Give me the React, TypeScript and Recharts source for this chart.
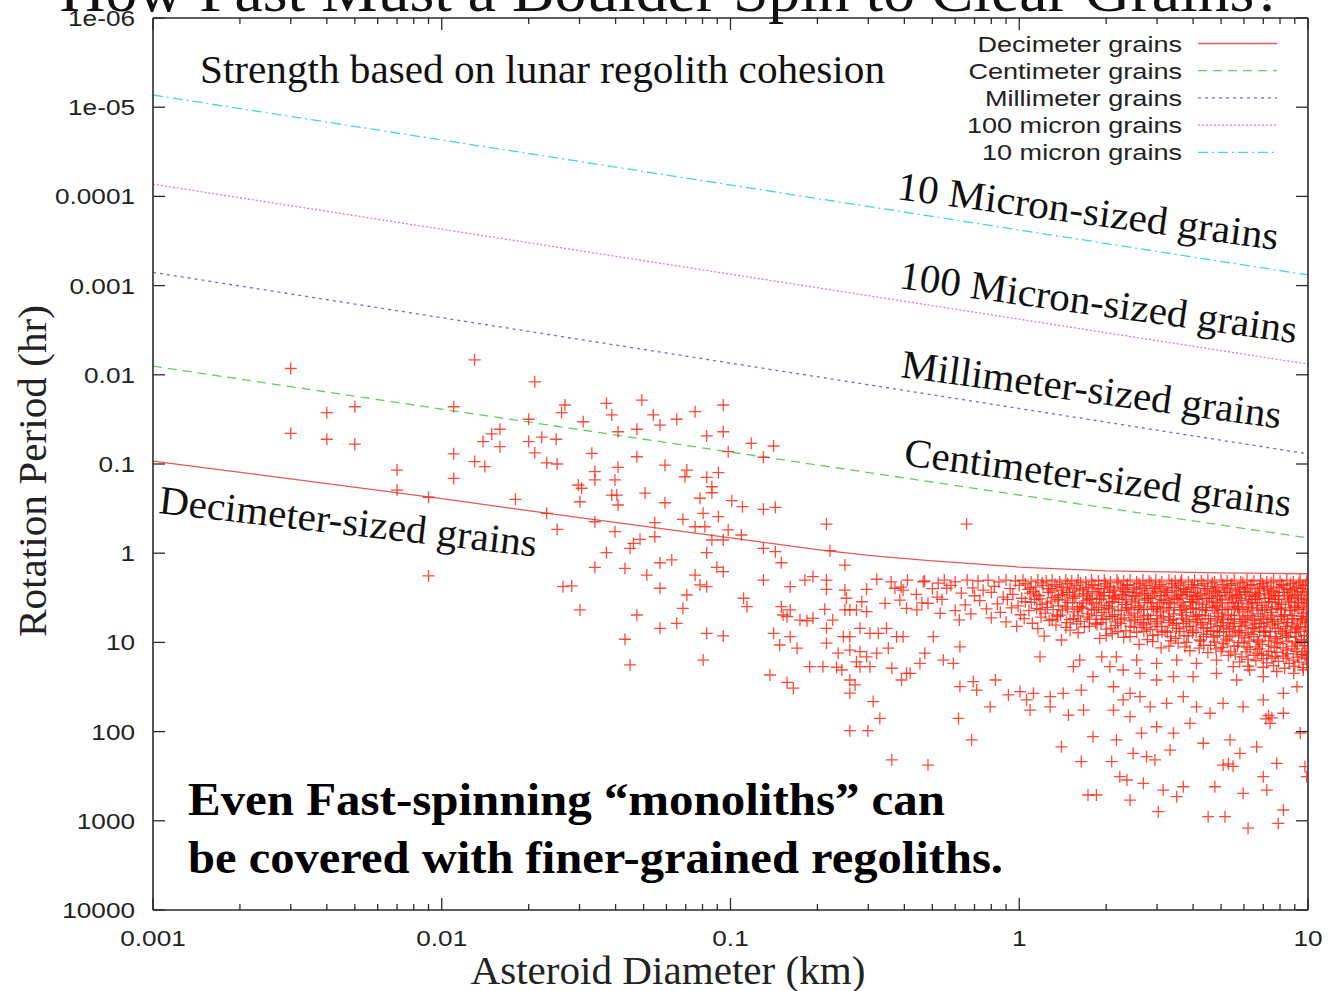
import React from 'react';
import { ComposedChart, XAxis, YAxis, Line, Scatter } from 'recharts';

const W = 1332;
const H = 991;

// ---------- axes ----------
const diameterMajor = [0.001, 0.01, 0.1, 1, 10];
const diameterMajorLabels = ['0.001', '0.01', '0.1', '1', '10'];
const diameterMinor = [
  0.002, 0.003, 0.004, 0.005, 0.006, 0.007, 0.008, 0.009,
  0.02, 0.03, 0.04, 0.05, 0.06, 0.07, 0.08, 0.09,
  0.2, 0.3, 0.4, 0.5, 0.6, 0.7, 0.8, 0.9,
  2, 3, 4, 5, 6, 7, 8, 9,
];
const diameterTicks = [...diameterMajor, ...diameterMinor];
const periodTicks = [1e-6, 1e-5, 1e-4, 1e-3, 1e-2, 1e-1, 1, 10, 100, 1000, 10000];
const periodLabels = ['1e-06', '1e-05', '0.0001', '0.001', '0.01', '0.1', '1', '10', '100', '1000', '10000'];

// ---------- strength curves [diameter km, period hr] ----------
const decimeterCurve = [
  [0.001, 0.093], [0.003, 0.147], [0.01, 0.245], [0.03, 0.4], [0.1, 0.675], [0.2, 0.91],
  [0.3, 1.06], [0.5, 1.22], [1, 1.43], [2, 1.58], [5, 1.66], [10, 1.7],
];
const centimeterCurve = [[0.001, 0.008], [10, 0.675]];
const millimeterCurve = [[0.001, 0.00071], [10, 0.077]];
const hundredMicronCurve = [[0.001, 0.000073], [10, 0.0076]];
const tenMicronCurve = [[0.001, 0.0000073], [10, 0.00076]];

const seriesNames = ['Decimeter grains', 'Centimeter grains', 'Millimeter grains', '100 micron grains', '10 micron grains'];
const seriesColors = ['#e05a5a', '#5fcf5f', '#6c6cd8', '#dc78dc', '#48d6d6'];
const seriesDashes = ['', '9 6', '3 4', '2 2', '10 4 2 4'];
const seriesCurves = [decimeterCurve, centimeterCurve, millimeterCurve, hundredMicronCurve, tenMicronCurve];

// ---------- asteroid observations [diameter km, period hr] ----------
const smallAsteroids = [
  [0.003, 0.0085], [0.013, 0.0068], [0.021, 0.012], [0.004, 0.0266], [0.005, 0.0228], [0.011, 0.0228],
  [0.02, 0.0315], [0.0267, 0.0218], [0.026, 0.0266], [0.003, 0.0453], [0.004, 0.0528], [0.005, 0.06],
  [0.0159, 0.0408], [0.0149, 0.046], [0.0139, 0.056], [0.0159, 0.064], [0.02, 0.056], [0.0222, 0.05],
  [0.0249, 0.0528], [0.011, 0.077], [0.021, 0.075], [0.013, 0.094], [0.0141, 0.107], [0.0231, 0.097],
  [0.0251, 0.1], [0.007, 0.117], [0.011, 0.145], [0.007, 0.196], [0.009, 0.236], [0.018, 0.249],
  [0.0231, 0.357], [0.0251, 0.54], [0.009, 1.8], [0.0263, 2.37],
];

const midAsteroids = [
  [0.0372, 0.0209], [0.0493, 0.0192], [0.0388, 0.0282], [0.0309, 0.0336], [0.054, 0.0282], [0.057, 0.0366],
  [0.0651, 0.0315], [0.0754, 0.0259], [0.0944, 0.0218], [0.0408, 0.0435], [0.0474, 0.0408], [0.0827, 0.0485],
  [0.0944, 0.0435], [0.118, 0.0586], [0.141, 0.0628], [0.0982, 0.0728], [0.13, 0.084], [0.0331, 0.0759],
  [0.0474, 0.0829], [0.0593, 0.103], [0.0408, 0.109], [0.0339, 0.122], [0.0706, 0.117], [0.0908, 0.125],
  [0.0827, 0.141], [0.0339, 0.151], [0.0398, 0.151], [0.0695, 0.139], [0.0297, 0.172], [0.0305, 0.187],
  [0.0862, 0.18], [0.0862, 0.21], [0.0506, 0.212], [0.0388, 0.223], [0.0404, 0.223], [0.0301, 0.265],
  [0.0408, 0.288], [0.0593, 0.272], [0.0784, 0.242], [0.101, 0.258], [0.11, 0.301], [0.13, 0.322],
  [0.143, 0.306], [0.0804, 0.357], [0.0908, 0.39], [0.0684, 0.417], [0.0547, 0.455], [0.0339, 0.444],
  [0.0754, 0.505], [0.0815, 0.505], [0.215, 0.471], [0.0982, 0.549], [0.109, 0.625], [0.0862, 0.711],
  [0.0944, 0.711], [0.0398, 0.574], [0.0486, 0.699], [0.0547, 0.654], [0.0461, 0.776], [0.0449, 0.882],
  [0.13, 0.882], [0.143, 0.962], [0.221, 0.937], [0.0372, 0.987], [0.0827, 0.987], [0.15, 1.28],
  [0.057, 1.28], [0.0626, 1.19], [0.249, 1.36], [0.0339, 1.44], [0.0431, 1.48], [0.0897, 1.44],
  [0.0944, 1.61], [0.0513, 1.76], [0.0754, 1.76], [0.13, 2.0], [0.181, 2.0], [0.193, 1.83],
  [0.215, 2.0], [0.161, 2.37], [0.0282, 2.33], [0.057, 2.47], [0.0784, 2.27], [0.0827, 2.37],
  [0.215, 2.54], [0.249, 2.59], [0.0706, 2.94], [0.111, 3.2], [0.114, 3.98], [0.15, 3.98],
  [0.161, 4.33], [0.212, 4.26], [0.249, 4.33], [0.259, 4.33], [0.273, 4.33], [0.0301, 4.33],
  [0.0474, 4.93], [0.0684, 4.15], [0.157, 5.15], [0.174, 5.62], [0.193, 5.37], [0.226, 5.62],
  [0.0651, 6.11], [0.057, 6.95], [0.141, 7.91], [0.161, 8.62], [0.215, 6.95], [0.246, 8.62],
  [0.259, 8.62], [0.0827, 7.91], [0.0944, 8.47], [0.0431, 9.22], [0.148, 10.7], [0.17, 11.6],
  [0.215, 10.2], [0.236, 13.2], [0.259, 12.2], [0.0804, 15.8], [0.0449, 17.9], [0.188, 18.7],
  [0.209, 18.7], [0.233, 19.0], [0.137, 23.2],
];

const largeAsteroids = [
  [0.657, 0.471], [0.296, 2.54], [0.321, 1.96], [0.371, 2.47], [0.396, 2.59], [0.465, 2.09],
  [0.524, 2.17], [0.561, 2.47], [0.152, 4.93], [0.184, 5.72], [0.252, 3.2], [0.285, 3.5],
  [0.296, 4.52], [0.343, 3.65], [0.386, 3.35], [0.407, 4.15], [0.442, 4.33], [0.483, 3.65],
  [0.532, 4.72], [0.281, 6.95], [0.304, 7.91], [0.325, 7.91], [0.347, 6.95], [0.376, 8.62],
  [0.396, 8.62], [0.504, 8.62], [0.281, 12.7], [0.296, 14.5], [0.321, 13.2], [0.352, 11.6],
  [0.471, 13.2], [0.623, 11.2], [0.243, 20.4], [0.273, 16.5], [0.281, 18.7], [0.304, 18.7],
  [0.362, 19.5], [0.453, 17.2], [0.407, 22.2], [0.546, 15.8], [0.591, 17.2], [0.157, 28.1],
  [0.165, 32.6], [0.259, 26.4], [0.27, 30.0], [0.391, 26.4], [0.419, 22.2], [0.259, 37.1],
  [0.623, 31.3], [0.693, 27.5], [0.712, 34.2], [0.827, 26.4], [0.312, 46.1], [0.329, 71.1],
  [0.616, 71.1], [0.793, 52.7], [0.259, 97.7], [0.299, 97.7], [0.684, 124], [0.362, 208],
  [0.483, 237], [0.917, 38.8], [1.006, 35.6], [1.06, 44.2], [1.09, 57.3],
];

const slowTail = [
  [1.18, 14.5], [1.4, 9.4], [1.62, 15.8], [1.54, 18.7], [1.12, 37.2], [1.28, 40.6], [1.42, 37.2],
  [1.64, 34.2], [1.28, 52.7], [1.48, 65.2], [1.67, 57.3], [1.4, 148], [1.8, 114], [1.64, 217],
  [1.73, 514], [1.85, 514], [2.09, 217], [2.17, 124], [2.12, 57.3], [2.29, 44.2], [2.42, 68.1],
  [2.23, 320], [2.36, 349], [2.69, 380], [2.42, 585], [2.48, 175], [2.76, 191], [2.95, 208],
  [2.65, 104], [2.99, 88.2], [3.33, 161], [3.15, 452], [3.03, 791], [3.51, 537], [3.7, 415],
  [3.42, 104], [3.9, 80.8], [4.34, 135], [4.76, 415], [4.51, 900], [5.16, 900], [5.08, 237],
  [5.37, 124], [5.96, 492], [6.2, 1210], [7.2, 452], [7.0, 320], [7.79, 227], [7.89, 1070],
  [8.22, 757], [5.81, 175], [6.64, 148], [7.39, 80.8], [8.22, 62.3], [9.4, 104], [9.76, 247],
  [9.9, 320], [5.96, 52.7], [5.08, 48.2], [4.58, 62.3], [4.11, 52.7], [3.7, 40.6], [3.24, 48.2],
  [2.84, 52.7], [2.62, 40.6], [2.42, 37.2], [2.12, 31.4], [1.8, 24.2], [7.0, 44.2], [8.22, 37.2],
  [9.16, 31.4], [7.0, 24.2], [5.66, 26.4], [4.82, 22.2], [4.0, 24.2], [3.42, 24.2], [2.99, 26.4],
  [2.62, 22.2], [2.29, 20.4], [2.06, 18.7], [1.93, 14.5], [2.17, 14.5], [2.55, 15.8], [2.99, 17.2],
  [3.51, 15.8], [4.11, 17.2], [4.82, 15.8], [5.51, 18.7], [6.28, 20.4], [7.79, 21.2], [8.92, 22.2],
  [9.63, 20.4], [7.3, 66], [7.5, 70], [7.15, 72], [5.3, 230], [5.5, 245],
];

const denseBand = [
  [0.36, 2.1], [0.41, 2.0], [0.47, 2.05], [0.55, 2.0], [0.6, 2.1], [0.66, 2.0], [0.72, 2.05], [0.78, 2.0],
  [0.85, 2.1], [0.9, 2.0], [0.97, 2.05], [1.03, 2.0], [1.1, 2.1], [1.16, 2.0], [1.24, 2.05], [1.3, 2.0],
  [1.38, 2.1], [1.45, 2.0], [1.52, 2.05], [1.6, 2.0], [1.7, 2.1], [1.78, 2.0], [1.88, 2.05], [1.97, 2.0],
  [2.07, 2.1], [2.18, 2.0], [2.3, 2.05], [2.42, 2.0], [2.55, 2.1], [2.68, 2.0], [2.82, 2.05], [2.97, 2.0],
  [3.12, 2.1], [3.3, 2.0], [3.47, 2.05], [3.65, 2.0], [3.85, 2.1], [4.05, 2.0], [4.27, 2.05], [4.5, 2.0],
  [4.75, 2.1], [5.0, 2.0], [5.25, 2.05], [5.55, 2.0], [5.85, 2.1], [6.15, 2.0], [6.5, 2.05], [6.85, 2.0],
  [7.2, 2.1], [7.6, 2.0], [8.0, 2.05], [8.45, 2.0], [8.9, 2.1], [9.4, 2.0], [9.9, 2.05],
  [0.39, 2.4], [0.5, 2.5], [0.58, 2.3], [0.69, 2.45], [0.75, 2.6], [0.82, 2.35], [0.93, 2.5], [1.0, 2.3],
  [1.07, 2.55], [1.14, 2.4], [1.21, 2.3], [1.28, 2.5], [1.35, 2.35], [1.42, 2.6], [1.5, 2.4], [1.58, 2.3],
  [1.66, 2.55], [1.74, 2.4], [1.83, 2.3], [1.92, 2.5], [2.02, 2.35], [2.12, 2.6], [2.24, 2.4], [2.36, 2.3],
  [2.48, 2.55], [2.62, 2.4], [2.75, 2.3], [2.9, 2.5], [3.05, 2.35], [3.22, 2.6], [3.38, 2.4], [3.56, 2.3],
  [3.75, 2.55], [3.95, 2.4], [4.15, 2.3], [4.38, 2.5], [4.62, 2.35], [4.88, 2.6], [5.12, 2.4], [5.4, 2.3],
  [5.7, 2.55], [6.0, 2.4], [6.32, 2.3], [6.67, 2.5], [7.02, 2.35], [7.4, 2.6], [7.8, 2.4], [8.22, 2.3],
  [8.66, 2.55], [9.12, 2.4], [9.62, 2.3],
  [0.44, 2.9], [0.52, 3.1], [0.63, 2.8], [0.7, 3.0], [0.8, 2.75], [0.88, 3.1], [0.95, 2.9], [1.02, 3.2],
  [1.09, 2.8], [1.17, 3.0], [1.26, 2.75], [1.33, 3.15], [1.41, 2.9], [1.49, 2.75], [1.57, 3.05], [1.67, 2.85],
  [1.77, 3.2], [1.86, 2.8], [1.96, 3.0], [2.05, 2.75], [2.16, 3.1], [2.27, 2.9], [2.4, 2.75], [2.52, 3.05],
  [2.66, 2.85], [2.8, 3.2], [2.94, 2.8], [3.1, 3.0], [3.27, 2.75], [3.44, 3.1], [3.62, 2.9], [3.82, 2.75],
  [4.02, 3.05], [4.24, 2.85], [4.46, 3.2], [4.7, 2.8], [4.95, 3.0], [5.2, 2.75], [5.48, 3.1], [5.78, 2.9],
  [6.08, 2.75], [6.4, 3.05], [6.75, 2.85], [7.1, 3.2], [7.48, 2.8], [7.88, 3.0], [8.3, 2.75], [8.75, 3.1],
  [9.2, 2.9], [9.7, 2.75],
  [0.46, 3.6], [0.54, 3.3], [0.65, 3.8], [0.73, 3.4], [0.84, 3.7], [0.91, 3.3], [0.99, 3.9], [1.05, 3.5],
  [1.13, 3.3], [1.2, 3.75], [1.29, 3.45], [1.37, 3.9], [1.44, 3.35], [1.53, 3.6], [1.62, 3.95], [1.71, 3.4],
  [1.8, 3.7], [1.9, 3.3], [2.0, 3.85], [2.1, 3.5], [2.21, 3.3], [2.33, 3.75], [2.45, 3.45], [2.58, 3.9],
  [2.72, 3.35], [2.86, 3.6], [3.01, 3.95], [3.17, 3.4], [3.34, 3.7], [3.52, 3.3], [3.7, 3.85], [3.9, 3.5],
  [4.1, 3.3], [4.32, 3.75], [4.55, 3.45], [4.8, 3.9], [5.05, 3.35], [5.32, 3.6], [5.6, 3.95], [5.9, 3.4],
  [6.22, 3.7], [6.56, 3.3], [6.92, 3.85], [7.3, 3.5], [7.7, 3.3], [8.1, 3.75], [8.55, 3.45], [9.0, 3.9],
  [9.5, 3.35], [9.92, 3.6],
  [0.6, 4.4], [0.68, 4.8], [0.77, 4.2], [0.86, 4.6], [0.94, 4.1], [1.01, 4.9], [1.08, 4.4], [1.15, 4.15],
  [1.23, 4.7], [1.31, 4.3], [1.39, 4.95], [1.47, 4.2], [1.55, 4.55], [1.64, 4.1], [1.73, 4.8], [1.82, 4.35],
  [1.93, 4.6], [2.04, 4.15], [2.14, 4.9], [2.26, 4.4], [2.38, 4.1], [2.5, 4.7], [2.64, 4.3], [2.78, 4.95],
  [2.92, 4.2], [3.08, 4.55], [3.24, 4.1], [3.42, 4.8], [3.6, 4.35], [3.8, 4.6], [4.0, 4.15], [4.2, 4.9],
  [4.42, 4.4], [4.66, 4.1], [4.9, 4.7], [5.16, 4.3], [5.44, 4.95], [5.74, 4.2], [6.05, 4.55], [6.38, 4.1],
  [6.72, 4.8], [7.08, 4.35], [7.46, 4.6], [7.86, 4.15], [8.28, 4.9], [8.72, 4.4], [9.18, 4.1], [9.66, 4.7],
  [0.62, 5.6], [0.8, 5.3], [0.9, 5.9], [1.04, 5.4], [1.11, 6.1], [1.19, 5.2], [1.27, 5.7], [1.36, 5.15],
  [1.46, 6.0], [1.54, 5.4], [1.63, 5.8], [1.72, 5.2], [1.84, 6.1], [1.95, 5.5], [2.06, 5.15], [2.19, 5.9],
  [2.31, 5.3], [2.44, 5.75], [2.57, 5.2], [2.7, 6.05], [2.85, 5.45], [3.0, 5.85], [3.16, 5.2], [3.33, 5.65],
  [3.5, 6.1], [3.68, 5.35], [3.88, 5.8], [4.08, 5.15], [4.3, 5.95], [4.52, 5.4], [4.76, 5.75], [5.02, 5.2],
  [5.28, 6.05], [5.56, 5.45], [5.86, 5.85], [6.18, 5.2], [6.52, 5.65], [6.88, 6.1], [7.26, 5.35], [7.65, 5.8],
  [8.06, 5.15], [8.5, 5.95], [8.95, 5.4], [9.42, 5.75], [9.88, 5.2],
  [0.98, 6.6], [1.16, 7.0], [1.34, 6.4], [1.5, 7.3], [1.68, 6.7], [1.86, 6.3], [2.0, 7.1], [2.15, 6.5],
  [2.34, 7.4], [2.5, 6.8], [2.66, 6.35], [2.84, 7.2], [3.0, 6.6], [3.2, 7.45], [3.4, 6.4], [3.58, 7.0],
  [3.8, 6.7], [4.0, 7.3], [4.25, 6.35], [4.48, 6.9], [4.72, 7.4], [4.98, 6.5], [5.22, 7.1], [5.5, 6.6],
  [5.8, 7.35], [6.1, 6.4], [6.42, 7.0], [6.78, 6.7], [7.14, 7.45], [7.52, 6.35], [7.92, 6.95], [8.35, 7.3],
  [8.8, 6.55], [9.26, 7.1], [9.75, 6.75],
  [1.22, 8.5], [1.6, 7.8], [1.9, 9.0], [2.1, 8.0], [2.3, 8.8], [2.55, 7.7], [2.78, 9.3], [3.02, 8.2],
  [3.26, 7.7], [3.48, 9.0], [3.72, 8.4], [3.98, 7.8], [4.22, 9.4], [4.45, 8.1], [4.7, 8.7], [4.94, 7.65],
  [5.2, 9.2], [5.46, 8.3], [5.74, 7.8], [6.04, 8.9], [6.35, 8.1], [6.68, 9.4], [7.02, 7.7], [7.38, 8.6],
  [7.76, 9.1], [8.16, 8.0], [8.58, 8.8], [9.02, 7.75], [9.48, 9.3], [9.9, 8.4],
  [2.6, 10.5], [3.1, 11.5], [3.55, 10.2], [3.9, 12.4], [4.35, 10.8], [4.8, 11.8], [5.1, 10.3], [5.4, 12.8],
  [5.7, 11.0], [6.0, 10.2], [6.3, 12.0], [6.6, 11.2], [6.95, 10.5], [7.3, 12.6], [7.65, 11.4], [8.0, 10.3],
  [8.4, 12.2], [8.8, 11.0], [9.2, 10.4], [9.6, 12.8], [9.95, 11.6],
  [5.3, 14.0], [6.2, 15.5], [6.9, 13.5], [7.5, 15.0], [8.2, 14.2], [8.9, 15.8], [9.5, 13.6], [9.85, 15.2],
];

const denseCore = [
  [1.05, 2.2], [1.2, 2.15], [1.33, 2.25], [1.47, 2.2], [1.63, 2.15], [1.8, 2.25], [1.99, 2.2], [2.2, 2.15],
  [2.37, 2.25], [2.6, 2.2], [2.86, 2.15], [3.07, 2.25], [3.37, 2.2], [3.62, 2.15], [3.97, 2.25], [4.33, 2.2],
  [4.66, 2.15], [5.07, 2.25], [5.45, 2.2], [5.95, 2.15], [6.4, 2.25], [6.95, 2.2], [7.45, 2.15], [8.1, 2.25],
  [8.7, 2.2], [9.3, 2.15], [9.8, 2.25],
  [1.12, 2.7], [1.3, 2.65], [1.46, 2.75], [1.62, 2.65], [1.79, 2.7], [1.97, 2.75], [2.14, 2.65], [2.33, 2.7],
  [2.55, 2.75], [2.77, 2.65], [3.0, 2.7], [3.25, 2.75], [3.5, 2.65], [3.78, 2.7], [4.08, 2.75], [4.4, 2.65],
  [4.78, 2.7], [5.15, 2.75], [5.6, 2.65], [6.05, 2.7], [6.55, 2.75], [7.05, 2.65], [7.6, 2.7], [8.2, 2.75],
  [8.85, 2.65], [9.45, 2.7],
  [1.18, 3.25], [1.36, 3.3], [1.55, 3.2], [1.75, 3.3], [1.93, 3.25], [2.13, 3.2], [2.35, 3.3], [2.6, 3.25],
  [2.85, 3.2], [3.1, 3.3], [3.38, 3.25], [3.66, 3.2], [3.96, 3.3], [4.3, 3.25], [4.64, 3.2], [5.0, 3.3],
  [5.42, 3.25], [5.85, 3.2], [6.3, 3.3], [6.8, 3.25], [7.35, 3.2], [7.95, 3.3], [8.6, 3.25], [9.25, 3.2],
  [9.85, 3.3],
  [1.25, 4.05], [1.45, 4.0], [1.66, 4.1], [1.88, 4.05], [2.1, 4.0], [2.35, 4.1], [2.6, 4.05], [2.88, 4.0],
  [3.15, 4.1], [3.45, 4.05], [3.75, 4.0], [4.1, 4.1], [4.45, 4.05], [4.85, 4.0], [5.25, 4.1], [5.7, 4.05],
  [6.15, 4.0], [6.65, 4.1], [7.2, 4.05], [7.75, 4.0], [8.35, 4.1], [9.0, 4.05], [9.6, 4.0],
  [1.35, 4.95], [1.6, 5.05], [1.85, 5.0], [2.1, 5.1], [2.4, 4.95], [2.7, 5.05], [3.0, 5.0], [3.3, 5.1],
  [3.65, 4.95], [4.0, 5.05], [4.4, 5.0], [4.85, 5.1], [5.3, 4.95], [5.8, 5.05], [6.3, 5.0], [6.85, 5.1],
  [7.45, 4.95], [8.1, 5.05], [8.8, 5.0], [9.5, 5.1],
  [1.58, 6.2], [1.92, 6.0], [2.25, 6.15], [2.62, 6.05], [2.95, 6.2], [3.3, 6.0], [3.7, 6.15], [4.12, 6.05],
  [4.6, 6.2], [5.05, 6.0], [5.55, 6.15], [6.05, 6.05], [6.6, 6.2], [7.2, 6.0], [7.85, 6.15], [8.5, 6.05],
  [9.2, 6.2], [9.8, 6.0],
  [2.2, 7.6], [2.7, 7.5], [3.12, 7.65], [3.6, 7.55], [4.1, 7.7], [4.6, 7.5], [5.1, 7.6], [5.6, 7.55],
  [6.2, 7.7], [6.8, 7.5], [7.4, 7.6], [8.05, 7.55], [8.7, 7.7], [9.4, 7.5],
  [2.9, 9.8], [3.35, 9.6], [3.8, 10.0], [4.25, 9.7], [4.75, 9.9], [5.25, 9.6], [5.75, 10.0], [6.25, 9.7],
  [6.75, 9.9], [7.3, 9.6], [7.85, 10.0], [8.45, 9.7], [9.05, 9.9], [9.7, 9.6],
  [4.5, 13.0], [5.0, 12.5], [5.6, 13.5], [6.1, 12.8], [6.7, 13.2], [7.2, 14.0], [7.8, 12.9], [8.5, 13.4],
  [9.1, 12.6], [9.75, 13.8],
  [5.8, 16.5], [6.6, 16.0], [7.2, 17.0], [7.9, 16.3], [8.6, 17.2], [9.3, 16.6], [9.9, 17.5],
];

const denseCoreInner = [
  [1.09, 2.45], [1.26, 2.5], [1.4, 2.45], [1.55, 2.5], [1.71, 2.45], [1.88, 2.5], [2.06, 2.45], [2.28, 2.5],
  [2.5, 2.45], [2.71, 2.5], [2.96, 2.45], [3.17, 2.5], [3.46, 2.45], [3.7, 2.5], [4.02, 2.45], [4.48, 2.5],
  [4.8, 2.45], [5.26, 2.5], [5.78, 2.45], [6.16, 2.5], [6.8, 2.45], [7.25, 2.5], [7.95, 2.45], [8.45, 2.5],
  [9.0, 2.45], [9.55, 2.5],
  [1.15, 2.95], [1.37, 3.0], [1.53, 2.95], [1.72, 3.0], [1.9, 2.95], [2.1, 3.0], [2.3, 2.95], [2.46, 3.0],
  [2.72, 2.95], [2.9, 3.0], [3.2, 2.95], [3.55, 3.0], [3.9, 2.95], [4.15, 3.0], [4.55, 2.95], [4.85, 3.0],
  [5.35, 2.95], [5.65, 3.0], [6.25, 2.95], [6.6, 3.0], [7.3, 2.95], [7.7, 3.0], [8.5, 2.95], [9.0, 3.0],
  [9.9, 2.95],
  [1.1, 3.55], [1.25, 3.6], [1.47, 3.55], [1.66, 3.6], [1.85, 3.55], [2.05, 3.6], [2.27, 3.55], [2.52, 3.6],
  [2.78, 3.55], [3.06, 3.6], [3.3, 3.55], [3.6, 3.6], [3.98, 3.55], [4.2, 3.6], [4.7, 3.55], [4.95, 3.6],
  [5.5, 3.55], [5.75, 3.6], [6.4, 3.55], [6.7, 3.6], [7.5, 3.55], [7.9, 3.6], [8.75, 3.55], [9.25, 3.6],
  [9.7, 3.55],
  [1.18, 4.3], [1.41, 4.35], [1.59, 4.3], [1.78, 4.25], [1.97, 4.3], [2.2, 4.35], [2.44, 4.3], [2.7, 4.25],
  [2.98, 4.3], [3.3, 4.35], [3.65, 4.3], [3.92, 4.25], [4.3, 4.3], [4.75, 4.35], [5.05, 4.3], [5.55, 4.25],
  [5.95, 4.3], [6.45, 4.35], [6.95, 4.3], [7.5, 4.25], [8.05, 4.3], [8.65, 4.35], [9.3, 4.3], [9.85, 4.25],
  [1.3, 5.5], [1.5, 5.55], [1.75, 5.5], [2.0, 5.45], [2.25, 5.5], [2.52, 5.55], [2.8, 5.5], [3.1, 5.45],
  [3.42, 5.5], [3.78, 5.55], [4.15, 5.5], [4.6, 5.45], [5.1, 5.5], [5.4, 5.55], [5.95, 5.5], [6.4, 5.45],
  [7.0, 5.5], [7.55, 5.55], [8.25, 5.5], [8.85, 5.45], [9.55, 5.5],
  [1.45, 6.8], [1.75, 6.6], [2.08, 6.9], [2.42, 6.6], [2.76, 6.85], [3.12, 6.65], [3.5, 6.9], [3.9, 6.6],
  [4.35, 6.85], [4.85, 6.65], [5.35, 6.9], [5.9, 6.6], [6.5, 6.85], [7.05, 6.65], [7.7, 6.9], [8.4, 6.6],
  [9.1, 6.85], [9.85, 6.65],
  [2.0, 8.4], [2.42, 8.6], [2.9, 8.4], [3.35, 8.6], [3.85, 8.45], [4.35, 8.6], [4.85, 8.4], [5.35, 8.6],
  [5.9, 8.45], [6.5, 8.6], [7.1, 8.4], [7.7, 8.6], [8.4, 8.45], [9.1, 8.6], [9.7, 8.4],
  [3.3, 11.0], [3.75, 11.2], [4.2, 11.6], [4.6, 10.8], [5.05, 11.4], [5.55, 11.0], [6.15, 11.3], [6.8, 11.8],
  [7.45, 11.0], [8.2, 11.5], [8.95, 11.8], [9.75, 10.9],
  [5.9, 14.5], [6.5, 14.0], [7.0, 15.2], [7.7, 14.4], [8.4, 15.0], [9.2, 14.6], [9.9, 14.0],
  [6.2, 18.5], [7.0, 19.0], [7.6, 18.2], [8.3, 19.5], [9.0, 18.6], [9.6, 19.2],
];

const toPoints = (arr: number[][]) => arr.map(([d, p]) => ({ d, p }));
const asteroidPoints = toPoints([
  ...smallAsteroids, ...midAsteroids, ...largeAsteroids, ...slowTail, ...denseBand, ...denseCore, ...denseCoreInner,
]);

// ---------- annotations ----------
const curveLabels = [
  { text: '10 Micron-sized grains', x: 896, y: 199, angle: 7.6, len: 384 },
  { text: '100 Micron-sized grains', x: 898, y: 288, angle: 7.9, len: 401 },
  { text: 'Millimeter-sized grains', x: 900, y: 377, angle: 7.7, len: 383 },
  { text: 'Centimeter-sized grains', x: 903, y: 465, angle: 7.6, len: 390 },
  { text: 'Decimeter-sized grains', x: 158, y: 513, angle: 6.6, len: 380 },
];

const SERIF = '"Times New Roman", "Liberation Serif", Tinos, Times, serif';
const SANS = '"Liberation Sans", Arial, Helvetica, sans-serif';
const AXIS = '#2a2a2a';

const isMajor = (v: number) => diameterMajor.indexOf(v);

const BottomTick = (props: any) => {
  const { x, y, payload } = props;
  const idx = isMajor(payload.value);
  return (
    <g>
      <line x1={x} x2={x} y1={y} y2={y - (idx >= 0 ? 12 : 6)} stroke={AXIS} strokeWidth={1.3} />
      {idx >= 0 && (
        <text transform={`translate(${x},${y + 36}) scale(1.19,1)`} textAnchor="middle" fontFamily={SANS} fontSize={22} fill="#222">
          {diameterMajorLabels[idx]}
        </text>
      )}
    </g>
  );
};

const TopTick = (props: any) => {
  const { x, y, payload } = props;
  const idx = isMajor(payload.value);
  return <line x1={x} x2={x} y1={y} y2={y + (idx >= 0 ? 12 : 6)} stroke={AXIS} strokeWidth={1.3} />;
};

const LeftTick = (props: any) => {
  const { x, y, payload } = props;
  const idx = periodTicks.indexOf(payload.value);
  return (
    <g>
      <line x1={x} x2={x + 12} y1={y} y2={y} stroke={AXIS} strokeWidth={1.3} />
      <text transform={`translate(${x - 18},${y + 8}) scale(1.19,1)`} textAnchor="end" fontFamily={SANS} fontSize={22} fill="#222">
        {idx >= 0 ? periodLabels[idx] : ''}
      </text>
    </g>
  );
};

const RightTick = (props: any) => {
  const { x, y } = props;
  return <line x1={x} x2={x - 12} y1={y} y2={y} stroke={AXIS} strokeWidth={1.3} />;
};

const PlusShape = (props: any) => {
  const { cx, cy } = props;
  if (cx == null || cy == null || isNaN(cx) || isNaN(cy)) return null;
  return (
    <path
      d={`M${cx - 6},${cy}H${cx + 6}M${cx},${cy - 6}V${cy + 6}`}
      stroke="#ff2210"
      strokeOpacity={0.82}
      strokeWidth={1.3}
      fill="none"
    />
  );
};

export default function App() {
  return (
    <div style={{ position: 'absolute', left: 0, top: 0, width: W, height: H, background: '#fff', overflow: 'hidden' }}>
      <ComposedChart width={W} height={H} margin={{ top: 17, right: 23, bottom: 0, left: 0 }}>
        <XAxis
          xAxisId="bottom"
          dataKey="d"
          type="number"
          scale="log"
          domain={[0.001, 10]}
          allowDataOverflow
          ticks={diameterTicks}
          interval={0}
          tick={(p: any) => <BottomTick {...p} />}
          tickLine={false}
          tickSize={0}
          tickMargin={0}
          height={81}
          axisLine={{ stroke: AXIS, strokeWidth: 1.6 }}
        />
        <XAxis
          xAxisId="top"
          orientation="top"
          dataKey="d"
          type="number"
          scale="log"
          domain={[0.001, 10]}
          allowDataOverflow
          ticks={diameterTicks}
          interval={0}
          tick={(p: any) => <TopTick {...p} />}
          tickLine={false}
          tickSize={0}
          tickMargin={0}
          height={1}
          axisLine={{ stroke: AXIS, strokeWidth: 1.6 }}
        />
        <YAxis
          yAxisId="left"
          dataKey="p"
          type="number"
          scale="log"
          domain={[1e-6, 1e4]}
          reversed
          allowDataOverflow
          ticks={periodTicks}
          interval={0}
          tick={(p: any) => <LeftTick {...p} />}
          tickLine={false}
          tickSize={0}
          tickMargin={0}
          width={153}
          axisLine={{ stroke: AXIS, strokeWidth: 1.6 }}
        />
        <YAxis
          yAxisId="right"
          orientation="right"
          dataKey="p"
          type="number"
          scale="log"
          domain={[1e-6, 1e4]}
          reversed
          allowDataOverflow
          ticks={periodTicks}
          interval={0}
          tick={(p: any) => <RightTick {...p} />}
          tickLine={false}
          tickSize={0}
          tickMargin={0}
          width={1}
          axisLine={{ stroke: AXIS, strokeWidth: 1.6 }}
        />
        {seriesCurves.map((curve, i) => (
          <Line
            key={seriesNames[i]}
            name={seriesNames[i]}
            xAxisId="bottom"
            yAxisId="left"
            data={toPoints(curve)}
            dataKey="p"
            type="linear"
            stroke={seriesColors[i]}
            strokeWidth={1.3}
            strokeDasharray={seriesDashes[i] || undefined}
            dot={false}
            activeDot={false}
            isAnimationActive={false}
          />
        ))}
        <Scatter
          name="Asteroids"
          xAxisId="bottom"
          yAxisId="left"
          data={asteroidPoints}
          dataKey="p"
          shape={PlusShape}
          isAnimationActive={false}
        />
      </ComposedChart>

      <svg width={W} height={H} style={{ position: 'absolute', left: 0, top: 0, pointerEvents: 'none' }}>
        <text x={671} y={11} textAnchor="middle" fontFamily={SERIF} fontSize={62} textLength={1223} lengthAdjust="spacingAndGlyphs" fill="#111">
          How Fast Must a Boulder Spin to Clear Grains?
        </text>
        <text x={200} y={83} fontFamily={SERIF} fontSize={40} textLength={685} lengthAdjust="spacingAndGlyphs" fill="#111">
          Strength based on lunar regolith cohesion
        </text>
        {curveLabels.map((l) => (
          <text
            key={l.text}
            x={l.x}
            y={l.y}
            transform={`rotate(${l.angle},${l.x},${l.y})`}
            fontFamily={SERIF}
            fontSize={40}
            textLength={l.len}
            lengthAdjust="spacingAndGlyphs"
            fill="#111"
          >
            {l.text}
          </text>
        ))}
        <text x={188} y={815} fontFamily={SERIF} fontWeight="bold" fontSize={47} textLength={757} lengthAdjust="spacingAndGlyphs" fill="#000">
          Even Fast-spinning “monoliths” can
        </text>
        <text x={188} y={873} fontFamily={SERIF} fontWeight="bold" fontSize={47} textLength={815} lengthAdjust="spacingAndGlyphs" fill="#000">
          be covered with finer-grained regoliths.
        </text>
        <text
          x={0}
          y={0}
          transform="translate(46,471) rotate(-90)"
          textAnchor="middle"
          fontFamily={SERIF}
          fontSize={40}
          textLength={332}
          lengthAdjust="spacingAndGlyphs"
          fill="#222"
        >
          Rotation Period (hr)
        </text>
        <text x={668} y={984} textAnchor="middle" fontFamily={SERIF} fontSize={40} textLength={395} lengthAdjust="spacingAndGlyphs" fill="#222">
          Asteroid Diameter (km)
        </text>
        {seriesNames.map((n, i) => {
          const cy = 43.5 + i * 27.2;
          return (
            <g key={n}>
              <text transform={`translate(1182,${cy + 8}) scale(1.23,1)`} textAnchor="end" fontFamily={SANS} fontSize={22} fill="#222">
                {n}
              </text>
              <line
                x1={1198}
                x2={1277}
                y1={cy}
                y2={cy}
                stroke={seriesColors[i]}
                strokeWidth={1.3}
                strokeDasharray={seriesDashes[i] || undefined}
              />
            </g>
          );
        })}
      </svg>
    </div>
  );
}
